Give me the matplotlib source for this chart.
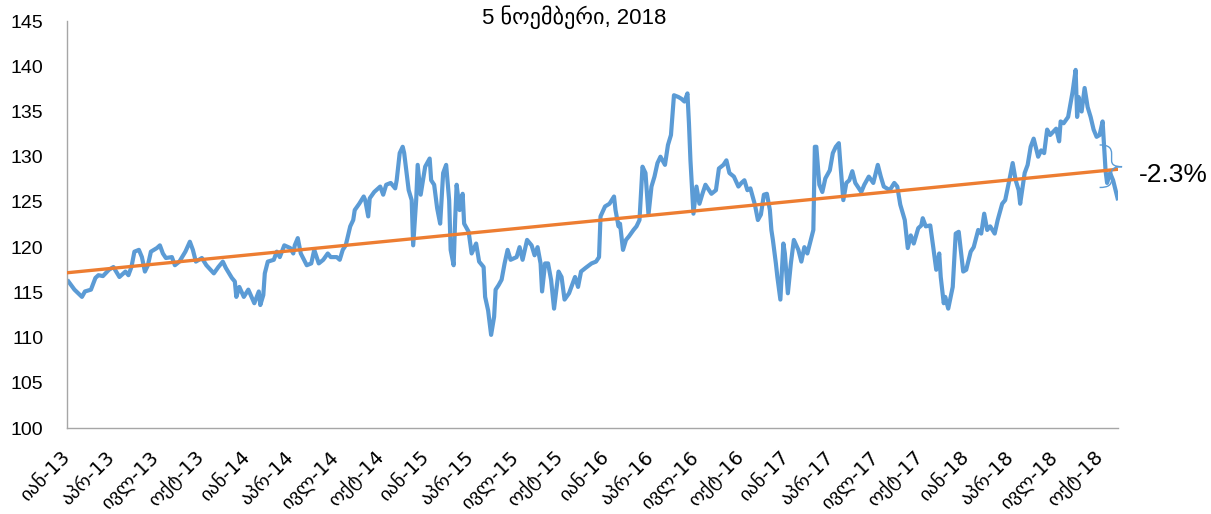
import numpy as np
import pandas as pd
import matplotlib
matplotlib.use('Agg')
import matplotlib.pyplot as plt
import matplotlib.dates as mdates
from matplotlib.path import Path
from matplotlib.patches import PathPatch

plt.rcParams['font.family'] = ['Liberation Sans', 'DejaVu Sans']

# months since 1 Jan 2013 and index values
months = [0.1, 0.5, 1.0, 1.2, 1.6, 1.9, 2.1, 2.4, 2.8, 3.1, 3.5, 3.9, 4.1, 4.3, 4.5, 4.8,
          5.0, 5.2, 5.4, 5.6, 6.0, 6.2, 6.4, 6.6, 7.0, 7.2, 7.5, 7.9, 8.2, 8.4, 8.6, 9.0,
          9.3, 9.8, 10.1, 10.4, 10.6, 11.0, 11.2, 11.3, 11.5, 11.8, 12.1, 12.5, 12.8, 12.9,
          13.1, 13.2, 13.4, 13.8, 14.0, 14.2, 14.5, 14.9, 15.1, 15.2, 15.4, 15.6, 16.0, 16.3,
          16.5, 16.8, 17.1, 17.4, 17.6, 18.0, 18.2, 18.4, 18.6, 18.9, 19.1, 19.2, 19.5, 19.8,
          19.9, 20.1, 20.2, 20.5, 20.9, 21.1, 21.3, 21.6, 21.9, 22.0, 22.2, 22.4, 22.5, 22.8,
          23.0, 23.1, 23.3, 23.4, 23.6, 23.9, 24.2, 24.3, 24.5, 24.7, 24.9, 25.1, 25.3, 25.5,
          25.6, 25.8, 25.9, 26.0, 26.2, 26.4, 26.5, 26.8, 27.0, 27.3, 27.5, 27.8, 27.9, 28.1,
          28.3, 28.5, 28.6, 28.8, 29.0, 29.2, 29.4, 29.6, 30.0, 30.2, 30.4, 30.7, 31.0, 31.2,
          31.4, 31.6, 31.7, 31.9, 32.1, 32.3, 32.5, 32.8, 33.0, 33.2, 33.5, 33.9, 34.1, 34.3,
          34.6, 35.0, 35.3, 35.5, 35.6, 35.9, 36.1, 36.2, 36.5, 36.6, 36.8, 36.9, 37.1, 37.3,
          37.5, 37.8, 38.0, 38.2, 38.4, 38.6, 38.8, 39.0, 39.2, 39.4, 39.6, 39.9, 40.1, 40.3,
          40.5, 40.8, 41.0, 41.2, 41.4, 41.5, 41.6, 41.8, 42.0, 42.2, 42.4, 42.6, 43.0, 43.3,
          43.5, 43.8, 44.0, 44.2, 44.5, 44.8, 45.0, 45.2, 45.4, 45.6, 45.9, 46.1, 46.3, 46.5,
          46.7, 46.9, 47.0, 47.1, 47.3, 47.4, 47.6, 47.8, 47.9, 48.1, 48.3, 48.5, 48.8, 49.0,
          49.2, 49.4, 49.6, 49.8, 49.9, 50.0, 50.2, 50.4, 50.6, 50.9, 51.1, 51.3, 51.5, 51.6,
          51.8, 52.0, 52.2, 52.4, 52.6, 53.0, 53.2, 53.5, 53.8, 54.1, 54.3, 54.5, 54.9, 55.2,
          55.4, 55.6, 55.9, 56.1, 56.3, 56.5, 56.8, 57.0, 57.1, 57.3, 57.6, 57.8, 58.0, 58.2,
          58.3, 58.5, 58.6, 58.8, 59.1, 59.3, 59.5, 59.8, 60.0, 60.3, 60.5, 60.8, 61.0, 61.2,
          61.4, 61.6, 61.9, 62.1, 62.4, 62.6, 62.9, 63.1, 63.3, 63.5, 63.6, 63.9, 64.1, 64.3,
          64.5, 64.8, 65.0, 65.2, 65.4, 65.6, 66.0, 66.2, 66.3, 66.5, 66.8, 67.0, 67.1, 67.3,
          67.4, 67.5, 67.7, 67.9, 68.1, 68.3, 68.5, 68.7, 68.9, 69.1, 69.2, 69.3, 69.4, 69.6,
          69.8, 70.1]
values = [116.2, 115.3, 114.5, 115.1, 115.3, 116.6, 116.9, 116.8, 117.5, 117.8, 116.7, 117.3,
          116.9, 117.8, 119.5, 119.7, 118.9, 117.3, 118.0, 119.5, 119.9, 120.2, 119.3, 118.8,
          118.9, 118.0, 118.4, 119.5, 120.6, 119.7, 118.4, 118.8, 118.0, 117.1, 117.8, 118.4,
          117.7, 116.6, 116.2, 114.5, 115.6, 114.5, 115.3, 113.8, 115.1, 113.6, 114.7, 117.1,
          118.4, 118.6, 119.5, 118.9, 120.2, 119.9, 119.3, 120.2, 121.0, 119.3, 118.0, 118.2,
          119.7, 118.2, 118.6, 119.3, 118.9, 118.9, 118.6, 119.7, 120.2, 122.3, 123.0, 124.1,
          124.8, 125.6, 125.2, 123.4, 125.4, 126.1, 126.7, 125.8, 126.9, 127.1, 126.5, 127.4,
          130.4, 131.1, 130.4, 126.3, 125.2, 120.2, 125.2, 129.1, 125.8, 128.9, 129.8, 127.4,
          126.9, 124.3, 122.6, 128.2, 129.1, 125.2, 119.7, 118.0, 123.0, 126.9, 124.1, 125.9,
          122.6, 121.7, 119.3, 120.4, 118.4, 117.8, 114.5, 113.0, 110.3, 112.3, 115.3, 115.8,
          116.4, 118.2, 119.7, 118.6, 118.9, 120.0, 118.6, 120.8, 120.2, 119.1, 120.0, 118.2,
          115.1, 118.2, 118.2, 116.4, 113.2, 117.3, 116.7, 114.2, 114.9, 116.7, 115.6, 117.3,
          117.7, 118.2, 118.4, 118.9, 123.4, 124.5, 124.7, 124.8, 125.6, 124.1, 122.3, 122.6,
          119.7, 120.8, 121.2, 121.9, 122.3, 123.0, 128.9, 128.2, 123.6, 126.7, 127.8, 129.3,
          130.0, 129.1, 131.3, 132.4, 136.8, 136.6, 136.4, 136.1, 137.0, 133.7, 129.6, 123.7,
          126.7, 124.8, 125.9, 126.9, 125.9, 126.3, 128.7, 129.1, 129.6, 128.2, 127.8, 126.7,
          127.1, 127.4, 126.3, 126.5, 124.7, 123.0, 123.6, 125.8, 125.9, 124.1, 121.9, 120.8,
          118.2, 116.7, 114.2, 120.4, 119.3, 114.9, 118.2, 120.8, 119.7, 118.4, 120.0, 119.3,
          120.6, 121.9, 131.1, 131.1, 126.9, 126.1, 127.6, 128.5, 130.4, 131.1, 131.5, 129.3,
          125.2, 127.1, 127.4, 128.4, 127.1, 126.1, 126.9, 127.8, 127.1, 129.1, 127.8, 126.7,
          126.3, 127.1, 126.7, 124.7, 123.0, 119.9, 121.3, 120.4, 122.1, 122.4, 123.2, 122.3,
          122.4, 120.0, 117.5, 119.3, 116.7, 113.8, 114.5, 113.2, 115.6, 121.5, 121.7, 117.3,
          117.5, 119.5, 120.0, 121.9, 121.5, 123.7, 121.9, 122.3, 121.5, 123.0, 124.8, 125.2,
          127.6, 129.3, 127.4, 126.3, 124.8, 128.2, 129.1, 131.1, 132.0, 130.0, 130.7, 130.4,
          133.0, 132.4, 133.1, 131.7, 133.9, 133.7, 134.4, 136.3, 137.2, 139.6, 134.4, 136.6,
          135.0, 137.6, 135.5, 134.4, 133.0, 132.2, 132.4, 133.9, 131.1, 128.4, 127.1, 128.2,
          127.4, 125.4]

month_names = ['იან', 'აპრ', 'ივლ', 'ოქტ']
title = '5 ნოემბერი, 2018'
change_label = '-2.3%'

start = pd.Timestamp('2013-01-01')
end = pd.Timestamp('2018-11-05')
dates = start + pd.to_timedelta(np.array(months) * 30.4375, unit='D')
xnum = mdates.date2num(dates)

# linear trend
k, b = np.polyfit(xnum, values, 1)
tx = np.array([mdates.date2num(start), xnum[-1]])
ty = k * tx + b

fig = plt.figure(figsize=(12.11, 5.14), dpi=100)
ax = fig.add_axes([0.0553, 0.1673, 0.8677, 0.7917])

ax.plot(dates, values, color='#5B9BD5', lw=3.0, solid_joinstyle='round', zorder=2)
ax.plot(mdates.num2date(tx), ty, color='#ED7D31', lw=2.4, zorder=3)

ax.set_xlim(start, end)
ax.set_ylim(100, 145)
ax.set_yticks(np.arange(100, 146, 5))

qticks = pd.date_range('2013-01-01', '2018-10-01', freq='QS')
ax.set_xticks(qticks)
ax.set_xticklabels([month_names[(d.month - 1) // 3] + '-' + d.strftime('%y') for d in qticks],
                   rotation=45, ha='right', va='center', rotation_mode='anchor',
                   family=['DejaVu Sans'])
ax.tick_params(axis='x', length=0, pad=19, labelsize=14)
ax.tick_params(axis='y', length=0, pad=17, labelsize=14)

for s in ['top', 'right']:
    ax.spines[s].set_visible(False)
for s in ['left', 'bottom']:
    ax.spines[s].set_color('#A6A6A6')
    ax.spines[s].set_linewidth(1)

# curly brace next to the last values
def m2x(m):
    return mdates.date2num(start + pd.Timedelta(days=m * 30.4375))

verts = [(m2x(68.9), 131.3),
         (m2x(69.5), 131.3), (m2x(69.7), 131.0), (m2x(69.7), 130.3),
         (m2x(69.7), 129.6),
         (m2x(69.7), 129.1), (m2x(69.9), 128.9), (m2x(70.4), 128.9),
         (m2x(69.9), 128.9), (m2x(69.7), 128.7), (m2x(69.7), 128.2),
         (m2x(69.7), 127.5),
         (m2x(69.7), 126.9), (m2x(69.5), 126.6), (m2x(68.9), 126.6)]
codes = [Path.MOVETO, Path.CURVE4, Path.CURVE4, Path.CURVE4, Path.LINETO,
         Path.CURVE4, Path.CURVE4, Path.CURVE4, Path.CURVE4, Path.CURVE4, Path.CURVE4,
         Path.LINETO, Path.CURVE4, Path.CURVE4, Path.CURVE4]
ax.add_patch(PathPatch(Path(verts, codes), fill=False, edgecolor='#5B9BD5', lw=1,
                       clip_on=False, zorder=4))

fig.text(1173 / 1211, 1 - 175 / 514, change_label, fontsize=19, ha='center', va='center')
fig.text(574 / 1211, 1 - 17 / 514, title, fontsize=16, ha='center', va='center')

fig.savefig('out.png', dpi=100)
